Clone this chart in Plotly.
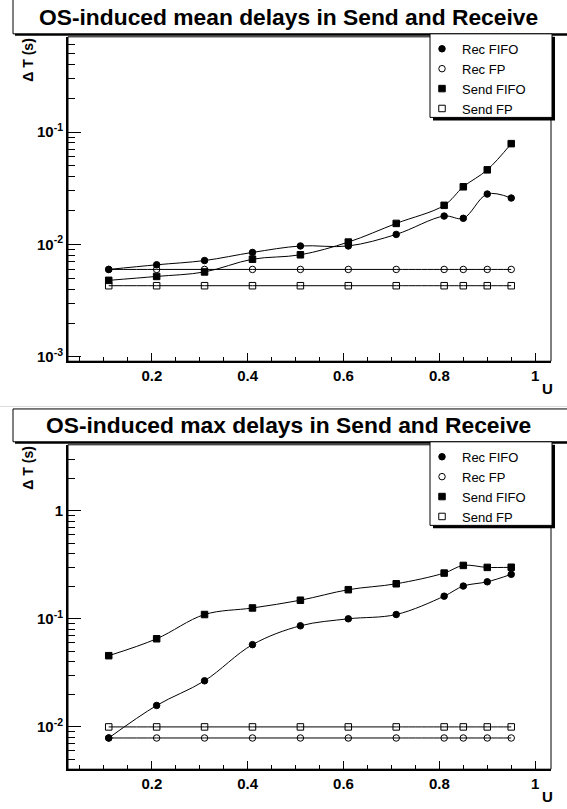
import plotly.graph_objects as go

# ---------------- data ----------------
u = [0.11, 0.21, 0.31, 0.41, 0.51, 0.61, 0.71, 0.81, 0.85, 0.90, 0.95]

mean_rec_fifo = [0.0060, 0.0066, 0.0072, 0.0085, 0.0097, 0.0097, 0.0123, 0.0179, 0.0171, 0.0281, 0.0259]
mean_rec_fp = [0.0060, 0.0060, 0.0060, 0.0060, 0.0060, 0.0060, 0.0060, 0.0060, 0.0060, 0.0060, 0.0060]
mean_send_fifo = [0.0048, 0.0052, 0.0057, 0.0074, 0.0081, 0.0105, 0.0154, 0.0223, 0.0326, 0.0461, 0.0789]
mean_send_fp = [0.0043, 0.0043, 0.0043, 0.0043, 0.0043, 0.0043, 0.0043, 0.0043, 0.0043, 0.0043, 0.0043]

max_rec_fifo = [0.0079, 0.0158, 0.0267, 0.0577, 0.0862, 0.100, 0.1096, 0.162, 0.201, 0.220, 0.258]
max_rec_fp = [0.0079, 0.0079, 0.0079, 0.0079, 0.0079, 0.0079, 0.0079, 0.0079, 0.0079, 0.0079, 0.0079]
max_send_fifo = [0.0456, 0.0654, 0.1096, 0.126, 0.1486, 0.186, 0.211, 0.265, 0.312, 0.299, 0.300]
max_send_fp = [0.0100, 0.0100, 0.0100, 0.0100, 0.0100, 0.0100, 0.0100, 0.0100, 0.0100, 0.0100, 0.0100]

series_names = ["Rec FIFO", "Rec FP", "Send FIFO", "Send FP"]
titles = ["OS-induced mean delays in Send and Receive", "OS-induced max delays in Send and Receive"]
x_ticks = [0.2, 0.4, 0.6, 0.8, 1.0]
x_tick_text = ["0.2", "0.4", "0.6", "0.8", "1"]
y_ticks_top = [0.001, 0.01, 0.1]
y_tick_text_top = ["10<sup>-3</sup>", "10<sup>-2</sup>", "10<sup>-1</sup>"]
y_ticks_bot = [0.01, 0.1, 1]
y_tick_text_bot = ["10<sup>-2</sup>", "10<sup>-1</sup>", "1"]

# ---------------- layout geometry ----------------
W, H = 567, 809
FONT = "Liberation Sans, Arial, Helvetica, sans-serif"
symbols = ["circle", "circle-open", "square", "square-open"]


def px(x):
    return x / W


def py(y):
    return 1 - y / H


fig = go.Figure()

panels = [
    dict(data=[mean_rec_fifo, mean_rec_fp, mean_send_fifo, mean_send_fp], xa="x", ya="y",
         legend="legend", off=0, yrange=[-3.038, -0.153],
         yticks=y_ticks_top, ytext=y_tick_text_top),
    dict(data=[max_rec_fifo, max_rec_fp, max_send_fifo, max_send_fp], xa="x2", ya="y2",
         legend="legend2", off=410, yrange=[-2.391, 0.610],
         yticks=y_ticks_bot, ytext=y_tick_text_bot),
]

for p in panels:
    for name, vals, sym in zip(series_names, p["data"], symbols):
        fig.add_trace(go.Scatter(
            x=u, y=vals, mode="lines", xaxis=p["xa"], yaxis=p["ya"],
            line=dict(color="black", width=1, shape="spline", smoothing=1.0),
            showlegend=False, hoverinfo="skip"))
    for name, vals, sym in zip(series_names, p["data"], symbols):
        fig.add_trace(go.Scatter(
            x=u, y=vals, mode="markers", name=name, xaxis=p["xa"], yaxis=p["ya"],
            legend=p["legend"],
            marker=dict(symbol=sym, size=6.5, color="black",
                        line=dict(color="black", width=1))))

x0, x1 = 68, 551
axis_common = dict(showgrid=False, zeroline=False, showline=True, linecolor="black",
                   linewidth=2, ticks="inside", tickcolor="black", tickwidth=1,
                   tickfont=dict(family=FONT, size=15, color="black", weight="bold"))

layout = dict(width=W, height=H, margin=dict(l=0, r=0, t=0, b=0),
              paper_bgcolor="white", plot_bgcolor="white", showlegend=True)

shapes = []
annotations = []

for i, p in enumerate(panels):
    sfx = "" if i == 0 else "2"
    o = p["off"]
    top, bot = 37 + o, 363 + o
    layout["xaxis" + sfx] = dict(
        axis_common, domain=[px(x0), px(x1)], range=[0.025, 1.033],
        anchor="y" + sfx, tickvals=x_ticks, ticktext=x_tick_text, ticklen=8,
        minor=dict(ticks="inside", ticklen=4, dtick=0.05, tick0=0, tickcolor="black"))
    layout["yaxis" + sfx] = dict(
        axis_common, type="log", domain=[py(bot), py(top)], range=p["yrange"],
        anchor="x" + sfx, tickvals=p["yticks"], ticktext=p["ytext"], ticklen=13,
        minor=dict(ticks="inside", ticklen=6.5, dtick="D1", tickcolor="black"))
    # thin frame (top/right)
    shapes.append(dict(type="rect", xref="paper", yref="paper",
                       x0=px(x0), x1=px(x1), y0=py(bot), y1=py(top),
                       line=dict(color="black", width=1), layer="above"))
    # title box
    tb_top = -1 + o if i == 0 else 411
    tb_bot = 34 + o
    shapes.append(dict(type="rect", xref="paper", yref="paper",
                       x0=px(13), x1=px(570), y0=py(tb_bot), y1=py(tb_top),
                       line=dict(color="black", width=1), fillcolor="white"))
    shapes.append(dict(type="line", xref="paper", yref="paper",
                       x0=px(15), x1=px(570), y0=py(tb_bot + 1), y1=py(tb_bot + 1),
                       line=dict(color="black", width=2)))
    annotations.append(dict(text="<b>" + titles[i] + "</b>", xref="paper", yref="paper",
                            x=px(288), y=py(17.5 + o),
                            showarrow=False, xanchor="center", yanchor="middle",
                            font=dict(family=FONT, size=22.8, color="black")))
    # axis titles
    annotations.append(dict(text="<b>Δ T (s)</b>", xref="paper", yref="paper",
                            x=px(28), y=py(60 + o), textangle=-90,
                            showarrow=False, xanchor="center", yanchor="middle",
                            font=dict(family=FONT, size=14, color="black")))
    annotations.append(dict(text="<b>U</b>", xref="paper", yref="paper",
                            x=px(547), y=py(390 + o),
                            showarrow=False, xanchor="center", yanchor="middle",
                            font=dict(family=FONT, size=15, color="black")))
    # legend box (drawn as shapes) with shadow
    lt, lb, ll, lr = 34 + o, 118 + o, 430, 552
    shapes.append(dict(type="rect", xref="paper", yref="paper",
                       x0=px(ll + 3), x1=px(lr + 3), y0=py(lb + 3), y1=py(lt + 3),
                       line=dict(width=0), fillcolor="black", layer="above"))
    shapes.append(dict(type="rect", xref="paper", yref="paper",
                       x0=px(ll), x1=px(lr), y0=py(lb), y1=py(lt),
                       line=dict(color="black", width=1), fillcolor="white", layer="above"))
    layout["legend" + sfx] = dict(
        x=px(422), xanchor="left", y=py(lt), yanchor="top",
        bgcolor="rgba(0,0,0,0)", borderwidth=0,
        font=dict(family=FONT, size=13, color="black"), tracegroupgap=0,
        itemwidth=30)

# pad separator
shapes.append(dict(type="line", xref="paper", yref="paper", x0=0, x1=1,
                   y0=py(408.5), y1=py(408.5), line=dict(color="#dddddd", width=1)))

layout["shapes"] = shapes
layout["annotations"] = annotations
fig.update_layout(**layout)
fig.write_html("out.html", post_script="document.body.style.margin='0';",
               config={"displayModeBar": False})
